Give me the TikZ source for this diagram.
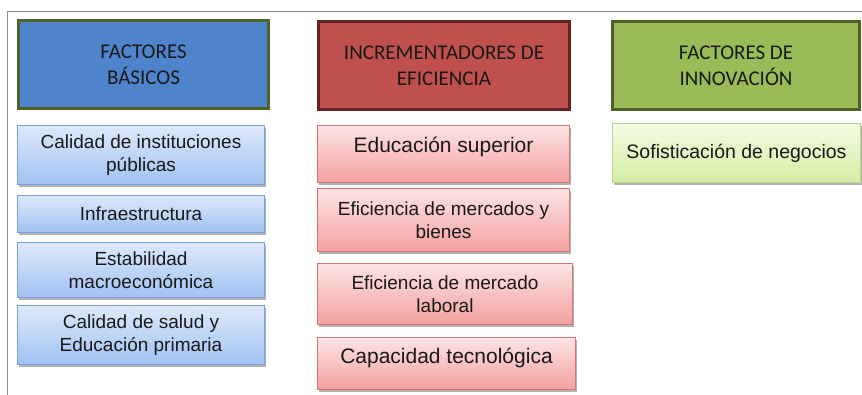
\documentclass[tikz,border=0pt]{standalone}
\usepackage{fontspec}
\setmainfont{Liberation Sans}
\newfontfamily\hdrfont{Carlito}
\usetikzlibrary{shadows}
\definecolor{hblue}{RGB}{79,132,205}
\definecolor{hred}{RGB}{192,80,77}
\definecolor{hgreen}{RGB}{155,187,89}
\definecolor{bgreen}{RGB}{79,98,40}
\definecolor{bred}{RGB}{99,36,35}
\definecolor{txt}{RGB}{25,25,25}
\definecolor{framegray}{RGB}{140,140,140}
\definecolor{sbtop}{RGB}{222,233,250}
\definecolor{sbbot}{RGB}{160,194,243}
\definecolor{sbdraw}{RGB}{120,160,220}
\definecolor{srtop}{RGB}{253,228,228}
\definecolor{srbot}{RGB}{244,160,160}
\definecolor{srdraw}{RGB}{215,115,115}
\definecolor{sgtop}{RGB}{243,251,226}
\definecolor{sgbot}{RGB}{212,238,165}
\definecolor{sgdraw}{RGB}{185,215,140}
\tikzset{
  hdr/.style={rectangle, line width=3pt, align=center, text=txt,
    font=\hdrfont\fontsize{21}{26}\selectfont, inner sep=0pt,
    drop shadow={shadow xshift=1pt, shadow yshift=-2pt, opacity=0.3, fill=black}},
  sub/.style={rectangle, line width=1.2pt, align=center, text=txt,
    font=\fontsize{19}{23}\selectfont, inner sep=0pt,
    drop shadow={shadow xshift=1pt, shadow yshift=-2.5pt, opacity=0.3, fill=black}},
  bigtext/.style={font=\fontsize{21}{25}\selectfont},
  subblue/.style={sub, top color=sbtop, bottom color=sbbot, draw=sbdraw},
  subred/.style={sub, top color=srtop, bottom color=srbot, draw=srdraw},
  subgreen/.style={sub, top color=sgtop, bottom color=sgbot, draw=sgdraw},
}
\begin{document}
\begin{tikzpicture}[x=1pt,y=-1pt]
\useasboundingbox (0,0) rectangle (862,395);
\coordinate (fbl) at (7,395);
\coordinate (ftl) at (7,12);
\coordinate (ftr) at (862,12);
\draw[framegray, line width=1pt] (fbl) -- (ftl) -- (ftr);

% headers
\node[hdr, fill=hblue, draw=bgreen, minimum width=250pt, minimum height=88pt] (h1) at (143.5,64.5) {FACTORES\\BÁSICOS};
\node[hdr, fill=hred, draw=bred, minimum width=251pt, minimum height=88pt] (h2) at (444,65.5) {INCREMENTADORES DE\\EFICIENCIA};
\node[hdr, fill=hgreen, draw=bgreen, minimum width=247pt, minimum height=88pt] (h3) at (736,65.5) {FACTORES DE\\INNOVACIÓN};

% blue column
\node[subblue, minimum width=247pt, minimum height=59pt] (b1) at (141,155) {Calidad de instituciones\\públicas};
\node[subblue, minimum width=247pt, minimum height=37pt] (b2) at (141,214) {Infraestructura};
\node[subblue, minimum width=247pt, minimum height=55pt] (b3) at (141,270) {Estabilidad\\macroeconómica};
\node[subblue, minimum width=247pt, minimum height=59pt] (b4) at (141,335) {Calidad de salud y\\Educación primaria};

% red column
\node[subred, bigtext, minimum width=252pt, minimum height=57pt, text depth=19pt] (r1) at (443.5,154) {Educación superior};
\node[subred, minimum width=252pt, minimum height=63pt] (r2) at (443.5,220) {Eficiencia de mercados y\\bienes};
\node[subred, minimum width=255pt, minimum height=61pt] (r3) at (445,294) {Eficiencia de mercado\\laboral};
\node[subred, bigtext, minimum width=258pt, minimum height=52pt, text depth=15pt] (r4) at (446.5,363.5) {Capacidad tecnológica};

% green column
\node[subgreen, font=\fontsize{19.5}{23}\selectfont, minimum width=248pt, minimum height=59pt] (g1) at (736.5,153) {Sofisticación de negocios};
\end{tikzpicture}
\end{document}
